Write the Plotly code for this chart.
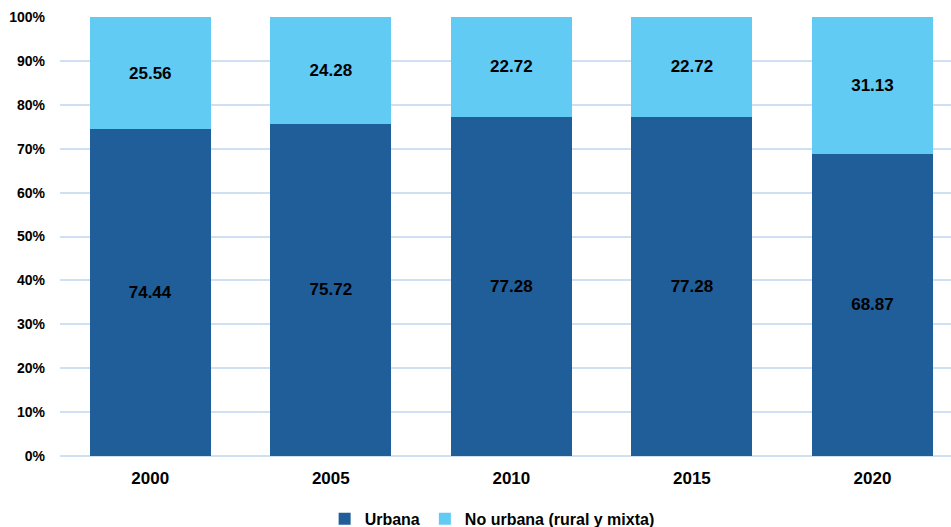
import plotly.graph_objects as go

years = ["2000", "2005", "2010", "2015", "2020"]
urbana = [74.44, 75.72, 77.28, 77.28, 68.87]
no_urbana = [25.56, 24.28, 22.72, 22.72, 31.13]
y_ticks = [0, 10, 20, 30, 40, 50, 60, 70, 80, 90, 100]
y_tick_labels = [f"{v}%" for v in y_ticks]

label_font = dict(family="Liberation Sans", size=17, color="black", weight="bold")

fig = go.Figure()
fig.add_trace(go.Bar(
    x=years, y=urbana, name="Urbana",
    marker=dict(color="#205E99", line=dict(width=0)),
    text=[f"{v:.2f}" for v in urbana], textposition="inside", insidetextanchor="middle",
    textfont=label_font, textangle=0,
))
fig.add_trace(go.Bar(
    x=years, y=no_urbana, name="No urbana (rural y mixta)",
    marker=dict(color="#61CBF3", line=dict(width=0)),
    text=[f"{v:.2f}" for v in no_urbana], textposition="inside", insidetextanchor="middle",
    textfont=label_font, textangle=0,
))

fig.update_layout(
    barmode="stack",
    bargap=0.33,
    width=951, height=527,
    margin=dict(l=60, r=0, t=17, b=71, autoexpand=False),
    plot_bgcolor="white", paper_bgcolor="white",
    showlegend=True,
    legend=dict(
        orientation="h", x=0.485, xanchor="center", y=-0.143, yanchor="middle",
        font=dict(family="Liberation Sans", size=16, color="black", weight="bold"),
        itemwidth=30, traceorder="normal",
    ),
    xaxis=dict(
        type="category", range=[-0.5, 4.435],
        tickfont=dict(family="Liberation Sans", size=17, color="black", weight="bold"),
        showgrid=False, showline=False, ticks="", ticklabelstandoff=10,
    ),
    yaxis=dict(
        range=[0, 100], tickvals=y_ticks, ticktext=y_tick_labels,
        tickfont=dict(family="Liberation Sans", size=14, color="black", weight="bold"),
        showgrid=True, gridcolor="#CFE0F2", gridwidth=2,
        zeroline=True, zerolinecolor="#CFE0F2", zerolinewidth=2,
        showline=False, ticks="", ticklabelstandoff=14,
    ),
)

fig.write_html(
    "out.html",
    config={"displayModeBar": False},
    post_script="document.body.style.margin='0';document.body.style.overflow='hidden';",
)
